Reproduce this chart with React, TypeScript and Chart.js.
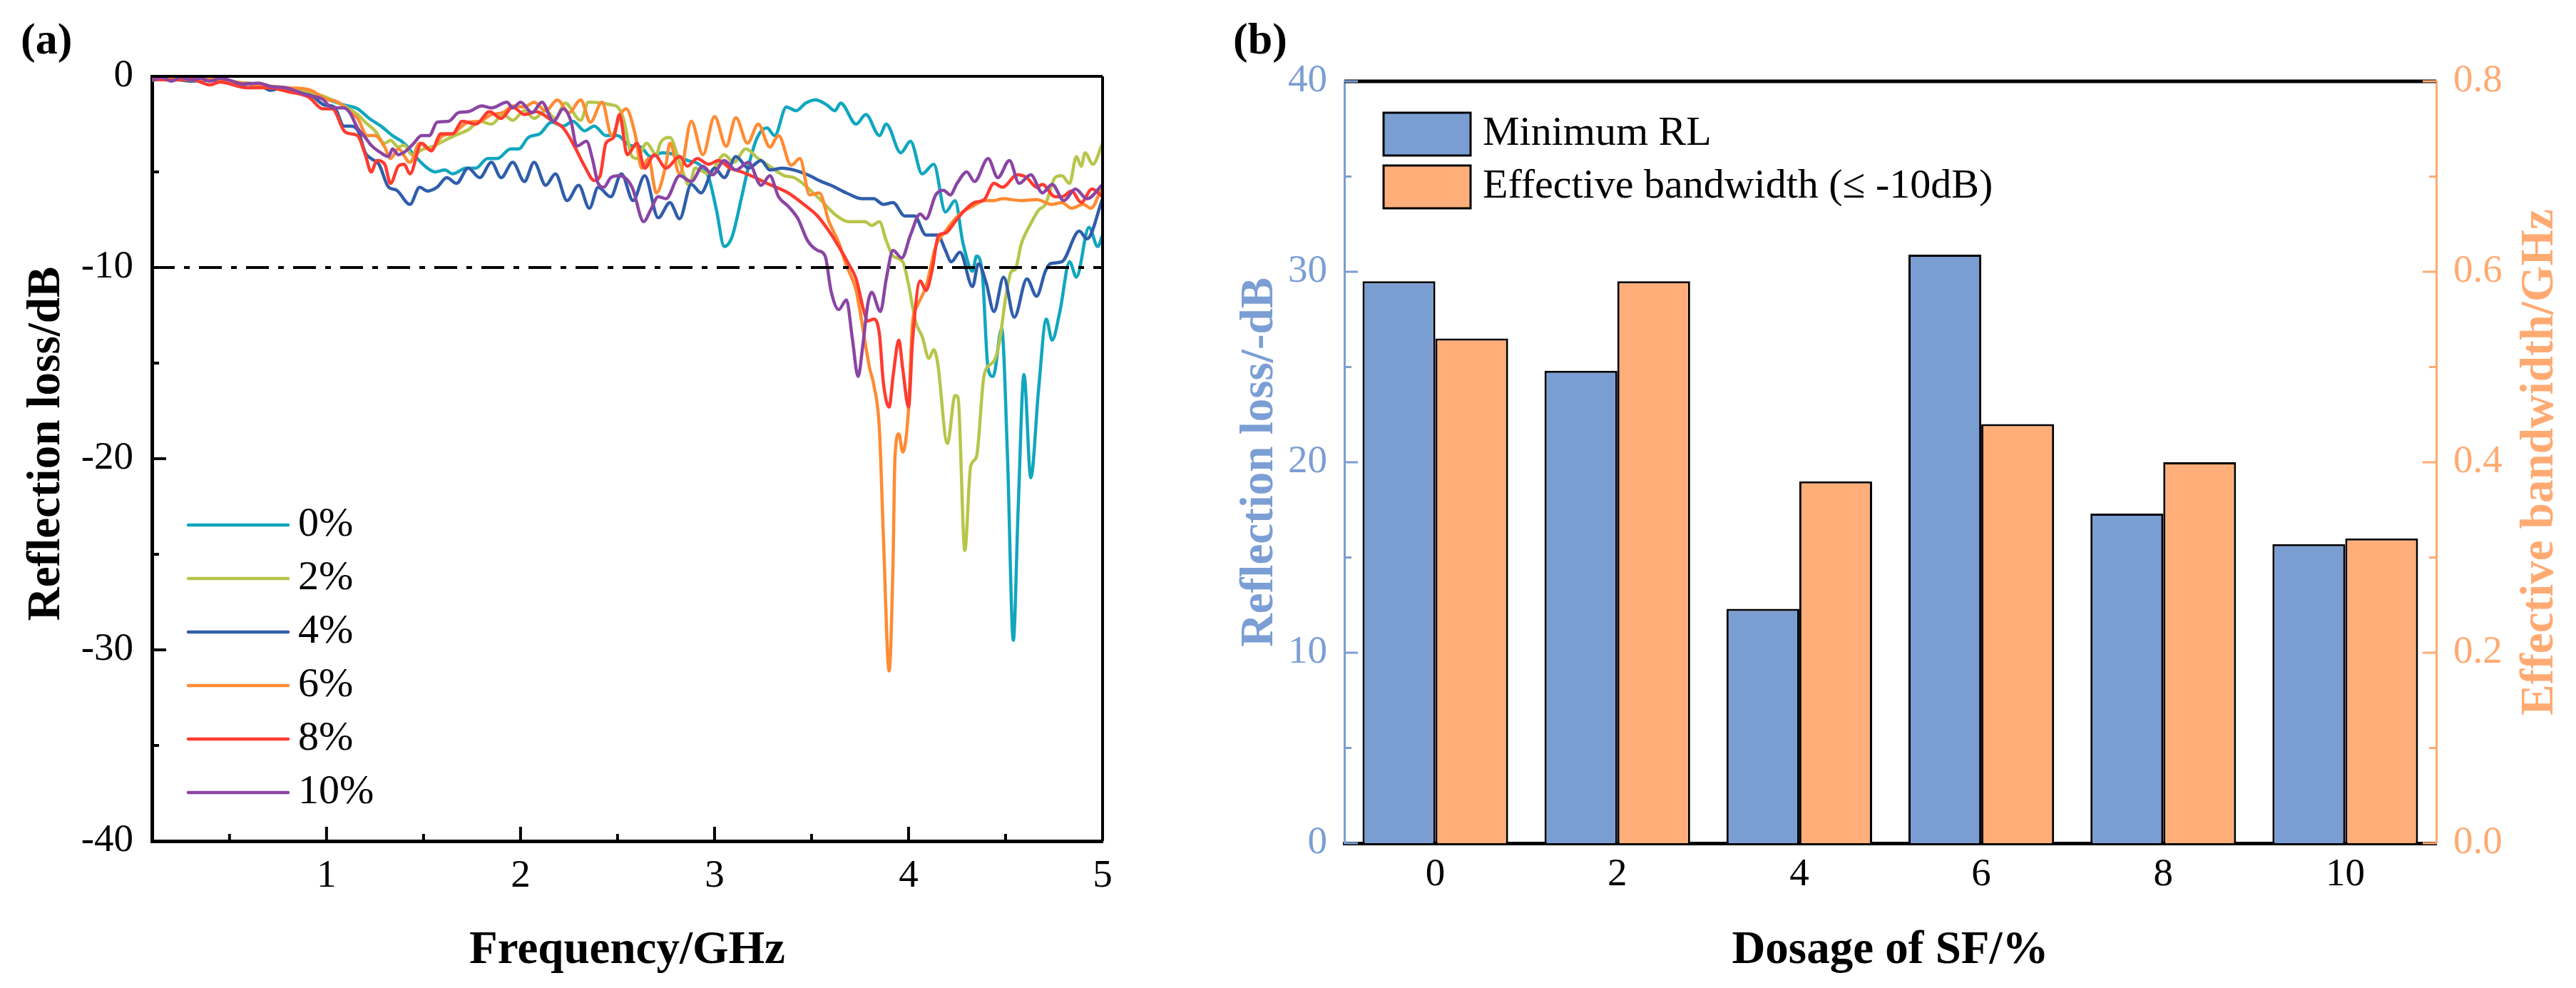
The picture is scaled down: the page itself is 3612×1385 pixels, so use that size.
import React, { useEffect, useRef } from 'react';
import { Chart, registerables } from 'chart.js';
Chart.register(...registerables);

const FONT = "'Liberation Serif', 'Times New Roman', Times, serif";

// ---------- Panel (a) data ----------
const FREQ_0 = [0.1,0.2,0.3,0.4,0.5,0.6,0.7,0.8,0.9,1.0,1.09,1.16,1.22,1.28,1.34,1.40,1.45,1.52,1.56,1.61,1.65,1.72,1.77,1.83,1.88,1.95,1.99,2.04,2.10,2.16,2.22,2.27,2.33,2.38,2.44,2.50,2.56,2.62,2.67,2.73,2.80,2.86,2.92,2.97,3.01,3.05,3.09,3.14,3.18,3.22,3.27,3.31,3.37,3.42,3.47,3.52,3.58,3.62,3.65,3.73,3.78,3.85,3.885,3.96,4.01,4.07,4.13,4.19,4.24,4.28,4.33,4.35,4.38,4.41,4.436,4.48,4.51,4.54,4.565,4.595,4.63,4.67,4.71,4.74,4.78,4.83,4.865,4.93,4.975,5.0];
const RL_0 = [-0.15,-0.1,-0.2,-0.15,-0.3,-0.4,-0.6,-0.7,-0.9,-1.2,-1.5,-1.7,-2.2,-2.6,-3.1,-3.5,-4.1,-4.8,-5.0,-4.9,-5.1,-4.8,-4.8,-4.3,-4.3,-3.8,-3.8,-3.2,-3.0,-2.4,-2.6,-2.35,-2.85,-2.6,-3.1,-3.1,-3.6,-3.7,-4.2,-4.0,-4.1,-4.4,-4.6,-5.3,-7.0,-8.9,-8.4,-6.3,-4.5,-3.2,-2.7,-3.1,-1.6,-1.8,-1.4,-1.23,-1.5,-1.8,-1.4,-2.5,-2.0,-3.1,-2.5,-4.0,-3.4,-5.1,-4.6,-7.1,-6.5,-8.7,-10.2,-9.4,-10.3,-15.3,-15.7,-13.2,-19.9,-29.5,-22.6,-15.6,-21.0,-16.4,-12.7,-13.8,-12.3,-9.7,-10.5,-7.9,-8.9,-8.3];

const FREQ_2 = [0.1,0.2,0.3,0.4,0.5,0.6,0.7,0.8,0.9,1.0,1.09,1.16,1.20,1.25,1.30,1.33,1.37,1.40,1.44,1.50,1.55,1.61,1.66,1.73,1.79,1.85,1.91,1.96,2.02,2.07,2.13,2.18,2.23,2.31,2.35,2.42,2.47,2.50,2.53,2.575,2.60,2.65,2.70,2.72,2.77,2.82,2.87,2.90,2.97,3.05,3.10,3.16,3.225,3.27,3.36,3.41,3.53,3.63,3.69,3.775,3.81,3.85,3.885,3.92,3.97,4.0,4.02,4.04,4.07,4.105,4.13,4.15,4.20,4.24,4.255,4.29,4.32,4.35,4.39,4.44,4.47,4.50,4.53,4.55,4.58,4.63,4.67,4.705,4.755,4.79,4.83,4.865,4.89,4.91,4.95,5.0];
const RL_2 = [-0.2,-0.1,-0.25,-0.15,-0.3,-0.35,-0.5,-0.65,-0.8,-1.1,-1.55,-2.0,-2.4,-2.85,-3.5,-3.35,-3.7,-3.6,-4.1,-3.8,-3.66,-3.35,-3.1,-2.8,-2.35,-2.5,-2.0,-2.3,-1.8,-2.2,-1.8,-2.2,-1.4,-2.3,-1.35,-1.4,-1.5,-1.6,-2.2,-4.2,-4.3,-3.5,-4.1,-3.5,-3.2,-4.5,-5.7,-4.8,-5.1,-4.1,-4.5,-3.8,-4.3,-4.6,-5.2,-5.3,-6.3,-7.3,-7.6,-7.6,-7.8,-7.6,-8.6,-9.4,-9.7,-10.9,-12.0,-12.95,-13.6,-14.75,-14.3,-15.0,-19.2,-16.7,-16.8,-24.8,-20.4,-19.9,-15.6,-14.9,-13.8,-11.6,-10.2,-10.1,-8.8,-7.7,-7.0,-6.7,-5.3,-5.2,-5.6,-4.2,-4.7,-4.0,-4.6,-3.5];

const FREQ_4 = [0.1,0.2,0.3,0.4,0.5,0.6,0.65,0.71,0.78,0.86,0.92,0.99,1.04,1.09,1.12,1.16,1.20,1.23,1.27,1.32,1.36,1.43,1.48,1.52,1.57,1.62,1.67,1.73,1.79,1.85,1.90,1.96,2.02,2.07,2.13,2.18,2.24,2.30,2.355,2.40,2.465,2.52,2.58,2.64,2.71,2.77,2.82,2.88,2.93,3.0,3.05,3.11,3.175,3.24,3.285,3.35,3.41,3.48,3.55,3.60,3.68,3.76,3.82,3.87,3.92,3.98,4.03,4.09,4.15,4.19,4.22,4.265,4.33,4.36,4.40,4.44,4.49,4.545,4.61,4.66,4.705,4.73,4.79,4.88,4.92,5.0];
const RL_4 = [-0.2,-0.15,-0.25,-0.2,-0.35,-0.6,-0.45,-0.73,-0.6,-0.9,-1.0,-1.5,-1.6,-2.6,-2.6,-2.8,-4.0,-4.3,-4.6,-5.8,-5.95,-6.7,-5.8,-6.0,-5.8,-5.3,-5.6,-4.8,-5.3,-4.5,-5.3,-4.5,-5.5,-4.5,-5.7,-5.1,-6.5,-5.7,-6.9,-5.8,-6.3,-5.1,-6.5,-5.2,-7.4,-6.6,-7.45,-5.65,-6.1,-4.8,-5.3,-4.2,-4.8,-4.4,-4.9,-4.8,-4.9,-5.15,-5.5,-5.7,-6.1,-6.4,-6.4,-6.7,-6.6,-7.3,-7.3,-8.3,-8.3,-9.1,-9.7,-9.2,-11.0,-9.8,-10.8,-12.3,-10.5,-12.6,-10.6,-11.5,-10.2,-9.8,-9.7,-8.1,-8.5,-6.4];

const FREQ_6 = [0.1,0.2,0.3,0.4,0.5,0.6,0.7,0.8,0.91,1.0,1.06,1.12,1.16,1.21,1.25,1.30,1.33,1.37,1.43,1.48,1.535,1.60,1.65,1.73,1.79,1.85,1.91,1.96,2.02,2.07,2.13,2.19,2.25,2.31,2.36,2.42,2.47,2.515,2.545,2.59,2.625,2.66,2.70,2.75,2.77,2.82,2.88,2.94,3.0,3.06,3.11,3.17,3.225,3.285,3.33,3.395,3.44,3.49,3.54,3.59,3.64,3.68,3.73,3.75,3.80,3.82,3.85,3.87,3.90,3.92,3.93,3.95,3.97,4.0,4.02,4.045,4.09,4.14,4.19,4.265,4.33,4.39,4.44,4.485,4.58,4.66,4.74,4.79,4.84,4.90,4.94,5.0];
const RL_6 = [-0.15,-0.1,-0.2,-0.15,-0.25,-0.4,-0.5,-0.6,-0.7,-1.2,-1.35,-1.85,-2.2,-3.1,-3.1,-3.7,-4.3,-3.8,-4.5,-3.5,-3.85,-3.1,-3.0,-2.4,-2.35,-2.0,-1.9,-1.55,-1.6,-1.35,-1.8,-1.23,-1.9,-1.23,-2.4,-1.35,-3.1,-2.0,-1.7,-3.0,-4.8,-4.3,-6.1,-4.6,-3.5,-5.1,-2.35,-4.1,-2.1,-3.66,-2.16,-3.5,-2.5,-3.7,-3.1,-4.65,-4.3,-6.2,-6.1,-7.6,-8.7,-9.9,-11.2,-12.3,-15.3,-16.1,-18.5,-24.0,-31.1,-25.4,-19.9,-18.7,-19.65,-17.4,-12.95,-12.0,-11.0,-8.9,-8.1,-7.2,-6.8,-6.5,-6.5,-6.4,-6.5,-6.45,-6.7,-6.6,-6.9,-6.7,-6.9,-5.7];

const FREQ_8 = [0.1,0.2,0.3,0.4,0.45,0.59,0.7,0.8,0.91,0.98,1.03,1.09,1.12,1.16,1.20,1.23,1.26,1.30,1.33,1.37,1.40,1.43,1.49,1.54,1.59,1.65,1.70,1.77,1.84,1.90,1.96,2.02,2.08,2.16,2.22,2.28,2.33,2.38,2.41,2.44,2.48,2.51,2.55,2.60,2.64,2.69,2.75,2.82,2.86,2.91,2.97,3.02,3.08,3.14,3.21,3.27,3.38,3.46,3.53,3.59,3.64,3.69,3.73,3.77,3.79,3.82,3.85,3.87,3.90,3.92,3.95,3.97,4.0,4.02,4.06,4.09,4.12,4.155,4.19,4.24,4.29,4.34,4.39,4.44,4.485,4.56,4.61,4.66,4.69,4.755,4.79,4.84,4.89,4.945,5.0];
const RL_8 = [-0.15,-0.2,-0.15,-0.45,-0.3,-0.6,-0.6,-0.8,-1.1,-1.7,-1.7,-2.85,-3.0,-3.1,-4.1,-5.0,-4.4,-4.6,-5.6,-4.7,-4.6,-5.1,-3.5,-3.9,-3.0,-3.0,-2.35,-2.5,-1.85,-2.2,-1.6,-2.0,-1.85,-2.3,-2.7,-3.7,-4.7,-5.45,-5.2,-3.5,-3.2,-2.0,-4.1,-3.5,-4.8,-4.1,-4.8,-4.2,-4.7,-4.3,-4.6,-4.4,-4.8,-5.0,-5.3,-5.6,-6.1,-6.7,-7.3,-8.1,-8.9,-9.8,-10.6,-12.3,-12.8,-12.7,-13.5,-16.0,-17.3,-15.7,-13.8,-15.3,-17.3,-13.9,-10.7,-11.2,-10.2,-8.3,-8.2,-7.6,-7.0,-6.6,-6.45,-5.6,-5.8,-5.15,-5.3,-5.8,-5.65,-6.3,-6.3,-6.0,-6.6,-5.9,-6.3];

const FREQ_10 = [0.1,0.15,0.2,0.25,0.3,0.35,0.4,0.45,0.5,0.57,0.65,0.72,0.79,0.85,0.91,0.98,1.03,1.09,1.12,1.16,1.20,1.23,1.28,1.32,1.34,1.37,1.41,1.45,1.49,1.53,1.57,1.63,1.68,1.73,1.80,1.85,1.93,1.96,2.0,2.06,2.11,2.17,2.22,2.26,2.29,2.34,2.37,2.40,2.43,2.465,2.51,2.575,2.635,2.67,2.71,2.75,2.82,2.88,2.94,2.99,3.05,3.11,3.175,3.24,3.285,3.33,3.38,3.43,3.48,3.53,3.57,3.60,3.64,3.68,3.71,3.74,3.765,3.79,3.81,3.855,3.885,3.92,3.965,4.01,4.06,4.09,4.14,4.18,4.215,4.25,4.30,4.34,4.41,4.46,4.52,4.57,4.63,4.69,4.74,4.80,4.86,4.92,5.0];
const RL_10 = [-0.2,-0.05,-0.25,-0.05,-0.2,-0.1,-0.25,-0.1,-0.2,-0.4,-0.35,-0.55,-0.6,-0.8,-1.0,-1.2,-1.65,-1.65,-1.9,-2.7,-3.2,-3.6,-4.0,-4.2,-3.8,-4.1,-3.9,-3.5,-3.1,-3.1,-2.4,-2.35,-1.9,-1.85,-1.55,-1.65,-1.35,-1.65,-1.35,-1.9,-1.35,-2.35,-1.7,-2.35,-3.65,-3.4,-4.3,-5.6,-5.8,-5.3,-5.2,-5.8,-7.6,-7.0,-6.3,-6.4,-5.2,-5.5,-4.7,-5.15,-4.4,-4.9,-4.5,-5.7,-5.2,-6.3,-6.8,-7.45,-8.6,-9.1,-9.4,-11.2,-12.2,-11.7,-13.7,-15.7,-14.0,-11.9,-11.3,-12.3,-10.6,-9.1,-9.5,-8.3,-7.2,-7.45,-6.2,-5.96,-6.2,-5.6,-5.0,-5.5,-4.3,-5.3,-4.4,-5.6,-5.15,-6.1,-5.65,-6.5,-5.9,-6.4,-5.65];

const SERIES_LABELS = ['0%', '2%', '4%', '6%', '8%', '10%'];
const SERIES_COLORS = ['#10A6BF', '#B7C54B', '#2F5DAB', '#FF8B33', '#FF3B30', '#8A45A3'];
const SERIES_FREQ = [FREQ_0, FREQ_2, FREQ_4, FREQ_6, FREQ_8, FREQ_10];
const SERIES_RL = [RL_0, RL_2, RL_4, RL_6, RL_8, RL_10];

const THRESHOLD = -10;
const FREQ_MIN = 0.1;
const FREQ_MAX = 5;
const RL_MIN = -40;
const RL_MAX = 0;
const A_X_TICKS = [1, 2, 3, 4, 5];
const A_X_MINOR = [0.5, 1.5, 2.5, 3.5, 4.5];
const A_Y_TICKS = [0, -10, -20, -30, -40];
const A_Y_MINOR = [-5, -15, -25, -35];

// ---------- Panel (b) data ----------
const DOSAGE = ['0', '2', '4', '6', '8', '10'];
const MIN_RL = [29.5, 24.8, 12.3, 30.9, 17.3, 15.7];
const BANDWIDTH = [0.53, 0.59, 0.38, 0.44, 0.40, 0.32];
const B_LEFT_TICKS = [0, 10, 20, 30, 40];
const B_LEFT_MINOR = [5, 15, 25, 35];
const B_RIGHT_TICKS = [0, 0.2, 0.4, 0.6, 0.8];
const B_RIGHT_MINOR = [0.1, 0.3, 0.5, 0.7];
const BAR_LABELS = ['Minimum RL', 'Effective bandwidth (\u2264 -10dB)'];

const BAR_BLUE = '#7B9ED2';
const BAR_ORANGE = '#FFAE79';
const AXIS_BLUE = '#7B9ED4';
const AXIS_ORANGE = '#FFAA72';

function zip(xs: number[], ys: number[]) {
  const n = Math.min(xs.length, ys.length);
  const out: { x: number; y: number }[] = [];
  for (let i = 0; i < n; i++) out.push({ x: xs[i], y: ys[i] });
  return out;
}

function line(ctx: CanvasRenderingContext2D, x1: number, y1: number, x2: number, y2: number) {
  ctx.beginPath();
  ctx.moveTo(x1, y1);
  ctx.lineTo(x2, y2);
  ctx.stroke();
}

function rotatedText(ctx: CanvasRenderingContext2D, text: string, x: number, y: number) {
  ctx.save();
  ctx.translate(x, y);
  ctx.rotate(-Math.PI / 2);
  ctx.textAlign = 'center';
  ctx.textBaseline = 'alphabetic';
  ctx.fillText(text, 0, 0);
  ctx.restore();
}

const panelAPlugin = {
  id: 'panelADecor',
  afterDraw(chart: any) {
    const { ctx, chartArea: a, scales } = chart;
    const xs = scales.x;
    const ys = scales.y;
    ctx.save();
    ctx.strokeStyle = '#000';
    ctx.lineWidth = 4;
    ctx.lineCap = 'butt';
    line(ctx, a.left, a.top, a.right, a.top);
    line(ctx, a.right, a.top, a.right, a.bottom);
    A_X_TICKS.forEach((v) => { const p = xs.getPixelForValue(v); line(ctx, p, a.bottom, p, a.bottom - 20); });
    A_X_MINOR.forEach((v) => { const p = xs.getPixelForValue(v); line(ctx, p, a.bottom, p, a.bottom - 10); });
    A_Y_TICKS.forEach((v) => { const p = ys.getPixelForValue(v); line(ctx, a.left, p, a.left + 20, p); });
    A_Y_MINOR.forEach((v) => { const p = ys.getPixelForValue(v); line(ctx, a.left, p, a.left + 10, p); });

    // legend
    ctx.font = `58px ${FONT}`;
    ctx.textAlign = 'left';
    ctx.textBaseline = 'middle';
    SERIES_LABELS.forEach((lab, i) => {
      const yy = 736 + i * 75;
      ctx.strokeStyle = SERIES_COLORS[i];
      ctx.lineWidth = 4.5;
      ctx.lineCap = 'round';
      line(ctx, 264, yy, 404, yy);
      ctx.fillStyle = '#000';
      ctx.fillText(lab, 418, yy);
    });

    // titles
    ctx.fillStyle = '#000';
    ctx.font = `bold 65px ${FONT}`;
    ctx.textAlign = 'center';
    ctx.textBaseline = 'alphabetic';
    ctx.fillText('Frequency/GHz', (a.left + a.right) / 2, 1350);
    rotatedText(ctx, 'Reflection loss/dB', 83, 622);
    ctx.font = `bold 62px ${FONT}`;
    ctx.textAlign = 'left';
    ctx.fillText('(a)', 29, 75);
    ctx.restore();
  },
};

const panelBPlugin = {
  id: 'panelBDecor',
  afterDraw(chart: any) {
    const { ctx, chartArea: a, scales } = chart;
    const yl = scales.y;
    const yr = scales.y1;
    ctx.save();
    ctx.strokeStyle = '#000';
    ctx.lineWidth = 5;
    line(ctx, a.left, a.top, a.right, a.top);

    ctx.lineWidth = 3;
    ctx.strokeStyle = AXIS_BLUE;
    B_LEFT_TICKS.forEach((v) => { const p = yl.getPixelForValue(v); line(ctx, a.left, p, a.left + 19, p); });
    B_LEFT_MINOR.forEach((v) => { const p = yl.getPixelForValue(v); line(ctx, a.left, p, a.left + 10, p); });
    ctx.strokeStyle = AXIS_ORANGE;
    B_RIGHT_TICKS.forEach((v) => { const p = yr.getPixelForValue(v); line(ctx, a.right, p, a.right - 19, p); });
    B_RIGHT_MINOR.forEach((v) => { const p = yr.getPixelForValue(v); line(ctx, a.right, p, a.right - 10, p); });

    // legend
    const colors = [BAR_BLUE, BAR_ORANGE];
    ctx.font = `58px ${FONT}`;
    ctx.textAlign = 'left';
    ctx.textBaseline = 'middle';
    BAR_LABELS.forEach((lab, i) => {
      const top = 158 + i * 74;
      ctx.fillStyle = colors[i];
      ctx.fillRect(240, top, 122, 60);
      ctx.strokeStyle = '#000';
      ctx.lineWidth = 3;
      ctx.strokeRect(240, top, 122, 60);
      ctx.fillStyle = '#000';
      ctx.fillText(lab, 379, top + 30);
    });

    // titles
    ctx.font = `bold 65px ${FONT}`;
    ctx.textAlign = 'center';
    ctx.textBaseline = 'alphabetic';
    ctx.fillStyle = '#000';
    ctx.fillText('Dosage of SF/%', (a.left + a.right) / 2, 1350);
    ctx.fillStyle = AXIS_BLUE;
    rotatedText(ctx, 'Reflection loss/-dB', 84, (a.top + a.bottom) / 2);
    ctx.fillStyle = AXIS_ORANGE;
    rotatedText(ctx, 'Effective bandwidth/GHz', 1879, (a.top + a.bottom) / 2);
    ctx.fillStyle = '#000';
    ctx.font = `bold 62px ${FONT}`;
    ctx.textAlign = 'left';
    ctx.fillText('(b)', 29, 75);
    ctx.restore();
  },
};

function makeConfigA(): any {
  const datasets: any[] = [
    {
      label: 'threshold',
      data: [{ x: FREQ_MIN, y: THRESHOLD }, { x: FREQ_MAX, y: THRESHOLD }],
      borderColor: '#000',
      borderWidth: 4,
      borderDash: [32, 13, 8, 13],
      pointRadius: 0,
      order: 0,
    },
  ];
  SERIES_LABELS.forEach((lab, i) => {
    datasets.push({
      label: lab,
      data: zip(SERIES_FREQ[i], SERIES_RL[i]),
      borderColor: SERIES_COLORS[i],
      backgroundColor: SERIES_COLORS[i],
      borderWidth: 4.5,
      pointRadius: 0,
      cubicInterpolationMode: 'monotone',
      borderJoinStyle: 'round',
      order: 6 - i,
    });
  });
  return {
    type: 'line',
    data: { datasets },
    options: {
      animation: false,
      responsive: false,
      devicePixelRatio: 1,
      events: [],
      layout: { padding: { left: 0, right: 154, top: 107, bottom: 0 } },
      plugins: { legend: { display: false }, tooltip: { enabled: false } },
      scales: {
        x: {
          type: 'linear',
          min: FREQ_MIN,
          max: FREQ_MAX,
          afterFit: (s: any) => { s.height = 206; },
          afterBuildTicks: (s: any) => { s.ticks = A_X_TICKS.map((v) => ({ value: v })); },
          grid: { display: false, drawTicks: false },
          border: { display: true, color: '#000', width: 5 },
          ticks: { color: '#000', font: { family: FONT, size: 55 }, padding: 17, maxRotation: 0, autoSkip: false, callback: (v: any) => String(v) },
        },
        y: {
          type: 'linear',
          min: RL_MIN,
          max: RL_MAX,
          afterFit: (s: any) => { s.width = 213; },
          afterBuildTicks: (s: any) => { s.ticks = A_Y_TICKS.map((v) => ({ value: v })); },
          grid: { display: false, drawTicks: false },
          border: { display: true, color: '#000', width: 5 },
          ticks: { color: '#000', font: { family: FONT, size: 55 }, padding: 26, autoSkip: false, callback: (v: any) => String(v) },
        },
      },
    },
    plugins: [panelAPlugin],
  };
}

function makeConfigB(): any {
  return {
    type: 'bar',
    data: {
      labels: DOSAGE,
      datasets: [
        {
          label: BAR_LABELS[0],
          data: MIN_RL,
          backgroundColor: BAR_BLUE,
          borderColor: '#000',
          borderWidth: 3,
          yAxisID: 'y',
          categoryPercentage: 0.8,
          barPercentage: 1.0,
        },
        {
          label: BAR_LABELS[1],
          data: BANDWIDTH,
          backgroundColor: BAR_ORANGE,
          borderColor: '#000',
          borderWidth: 3,
          yAxisID: 'y1',
          categoryPercentage: 0.8,
          barPercentage: 1.0,
        },
      ],
    },
    options: {
      animation: false,
      responsive: false,
      devicePixelRatio: 1,
      events: [],
      layout: { padding: { left: 0, right: 0, top: 114, bottom: 0 } },
      plugins: { legend: { display: false }, tooltip: { enabled: false } },
      scales: {
        x: {
          afterFit: (s: any) => { s.height = 203; },
          grid: { display: false, drawTicks: false },
          border: { display: true, color: '#000', width: 5 },
          ticks: { color: '#000', font: { family: FONT, size: 55 }, padding: 12, maxRotation: 0, autoSkip: false },
        },
        y: {
          type: 'linear',
          position: 'left',
          min: 0,
          max: 40,
          afterFit: (s: any) => { s.width = 185; },
          afterBuildTicks: (s: any) => { s.ticks = B_LEFT_TICKS.map((v) => ({ value: v })); },
          grid: { display: false, drawTicks: false },
          border: { display: true, color: AXIS_BLUE, width: 3 },
          ticks: { color: AXIS_BLUE, font: { family: FONT, size: 55 }, padding: 24, autoSkip: false, callback: (v: any) => String(v) },
        },
        y1: {
          type: 'linear',
          position: 'right',
          min: 0,
          max: 0.8,
          afterFit: (s: any) => { s.width = 196; },
          afterBuildTicks: (s: any) => { s.ticks = B_RIGHT_TICKS.map((v) => ({ value: v })); },
          grid: { display: false, drawTicks: false },
          border: { display: true, color: AXIS_ORANGE, width: 3 },
          ticks: { color: AXIS_ORANGE, font: { family: FONT, size: 55 }, padding: 24, autoSkip: false, callback: (v: any) => Number(v).toFixed(1) },
        },
      },
    },
    plugins: [panelBPlugin],
  };
}

export default function App() {
  const refA = useRef<HTMLCanvasElement>(null);
  const refB = useRef<HTMLCanvasElement>(null);
  useEffect(() => {
    if (!refA.current || !refB.current) return;
    const ca = new Chart(refA.current, makeConfigA());
    const cb = new Chart(refB.current, makeConfigB());
    return () => {
      ca.destroy();
      cb.destroy();
    };
  }, []);
  return (
    <div style={{ position: 'absolute', left: 0, top: 0, width: 3612, height: 1385, background: '#fff', overflow: 'hidden' }}>
      <canvas ref={refA} width={1700} height={1385} style={{ position: 'absolute', left: 0, top: 0 }} />
      <canvas ref={refB} width={1912} height={1385} style={{ position: 'absolute', left: 1700, top: 0 }} />
    </div>
  );
}
